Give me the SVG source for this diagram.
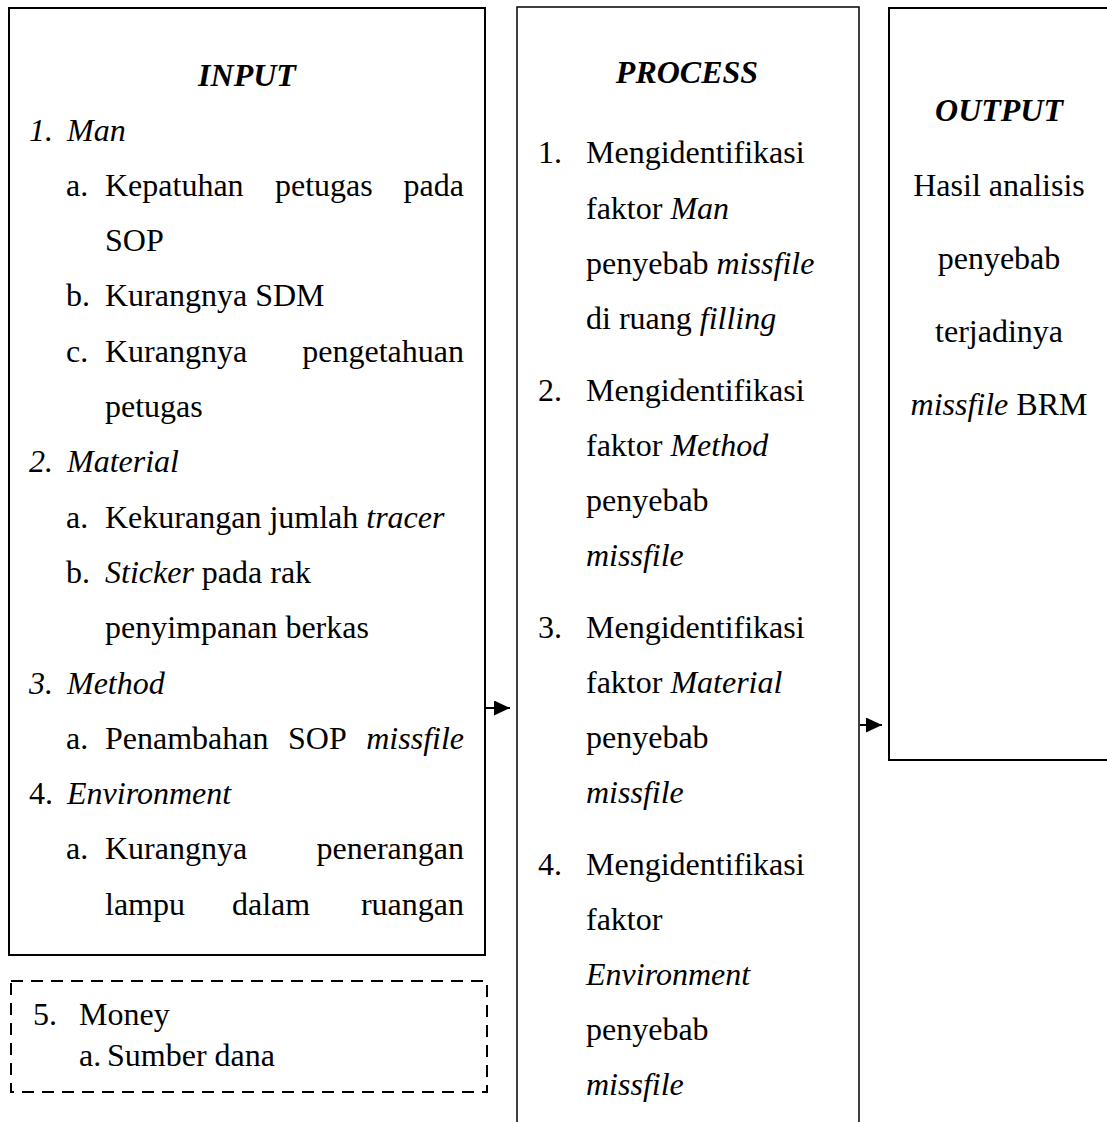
<svg xmlns="http://www.w3.org/2000/svg" width="1107" height="1122" viewBox="0 0 1107 1122">
<style>
text{font-family:"Liberation Serif","Times New Roman",serif;font-size:32px;fill:#000}
.i{font-style:italic}
.t{font-weight:bold;font-style:italic}
.box{fill:#fff;stroke:#000;stroke-width:2}
.thin{fill:none;stroke:#000;stroke-width:1.5}
.dash{fill:none;stroke:#000;stroke-width:2;stroke-dasharray:12 8}
.c{stroke:#000;stroke-width:2;fill:none}
</style>
<defs>
<marker id="ah" markerUnits="userSpaceOnUse" markerWidth="16" markerHeight="15" refX="16" refY="7.5" orient="auto">
<path d="M0,0 L16,7.5 L0,15 z" fill="#000"/>
</marker>
</defs>
<rect width="1107" height="1122" fill="#fff"/>
<g id="input">
<rect class="box" x="9" y="8" width="476" height="947"/>
<text class="t" x="247" y="86" text-anchor="middle">INPUT</text>
<text class="i" x="29" y="140.5">1.</text><text class="i" x="67" y="140.5">Man</text>
<text x="66" y="195.8">a.</text><text x="105" y="195.8">Kepatuhan</text><text x="275" y="195.8">petugas</text><text x="464" y="195.8" text-anchor="end">pada</text>
<text x="105" y="251.1">SOP</text>
<text x="66" y="306.4">b.</text><text x="105" y="306.4">Kurangnya SDM</text>
<text x="66" y="361.7">c.</text><text x="105" y="361.7">Kurangnya</text><text x="464" y="361.7" text-anchor="end">pengetahuan</text>
<text x="105" y="417">petugas</text>
<text class="i" x="29" y="472.3">2.</text><text class="i" x="67" y="472.3">Material</text>
<text x="66" y="527.6">a.</text><text x="105" y="527.6">Kekurangan jumlah <tspan class="i">tracer</tspan></text>
<text x="66" y="582.9">b.</text><text x="105" y="582.9"><tspan class="i">Sticker</tspan> pada rak</text>
<text x="105" y="638.2">penyimpanan berkas</text>
<text class="i" x="29" y="693.5">3.</text><text class="i" x="67" y="693.5">Method</text>
<text x="66" y="748.8">a.</text><text x="105" y="748.8">Penambahan</text><text x="288" y="748.8">SOP</text><text class="i" x="464" y="748.8" text-anchor="end">missfile</text>
<text x="29" y="804.1">4.</text><text class="i" x="67" y="804.1">Environment</text>
<text x="66" y="859.4">a.</text><text x="105" y="859.4">Kurangnya</text><text x="464" y="859.4" text-anchor="end">penerangan</text>
<text x="105" y="914.7">lampu</text><text x="232" y="914.7">dalam</text><text x="464" y="914.7" text-anchor="end">ruangan</text>
</g>
<g id="money">
<rect class="dash" x="11" y="981" width="476" height="111"/>
<text x="33" y="1025">5.</text><text x="79" y="1025">Money</text>
<text x="79" y="1066">a.</text><text x="107" y="1066">Sumber dana</text>
</g>
<g id="process">
<path class="thin" d="M517,1130 V7 H859 V1130"/>
<text class="t" x="687" y="83" text-anchor="middle">PROCESS</text>
<text x="538" y="163">1.</text><text x="586" y="163">Mengidentifikasi</text>
<text x="586" y="218.5">faktor <tspan class="i">Man</tspan></text>
<text x="586" y="274">penyebab <tspan class="i">missfile</tspan></text>
<text x="586" y="329">di ruang <tspan class="i">filling</tspan></text>
<text x="538" y="401">2.</text><text x="586" y="401">Mengidentifikasi</text>
<text x="586" y="456">faktor <tspan class="i">Method</tspan></text>
<text x="586" y="511">penyebab</text>
<text class="i" x="586" y="566">missfile</text>
<text x="538" y="638">3.</text><text x="586" y="638">Mengidentifikasi</text>
<text x="586" y="693">faktor <tspan class="i">Material</tspan></text>
<text x="586" y="748">penyebab</text>
<text class="i" x="586" y="803">missfile</text>
<text x="538" y="875">4.</text><text x="586" y="875">Mengidentifikasi</text>
<text x="586" y="930">faktor</text>
<text class="i" x="586" y="985">Environment</text>
<text x="586" y="1040">penyebab</text>
<text class="i" x="586" y="1095">missfile</text>
</g>
<g id="output">
<rect class="box" x="889" y="8" width="240" height="752"/>
<text class="t" x="999" y="121" text-anchor="middle">OUTPUT</text>
<text x="999" y="196" text-anchor="middle">Hasil analisis</text>
<text x="999" y="269" text-anchor="middle">penyebab</text>
<text x="999" y="342" text-anchor="middle">terjadinya</text>
<text x="999" y="415" text-anchor="middle"><tspan class="i">missfile</tspan> BRM</text>
</g>
<g id="connectors">
<line class="c" x1="485" y1="708" x2="510" y2="708" marker-end="url(#ah)"/>
<line class="c" x1="860" y1="725" x2="882" y2="725" marker-end="url(#ah)"/>
</g>
</svg>
